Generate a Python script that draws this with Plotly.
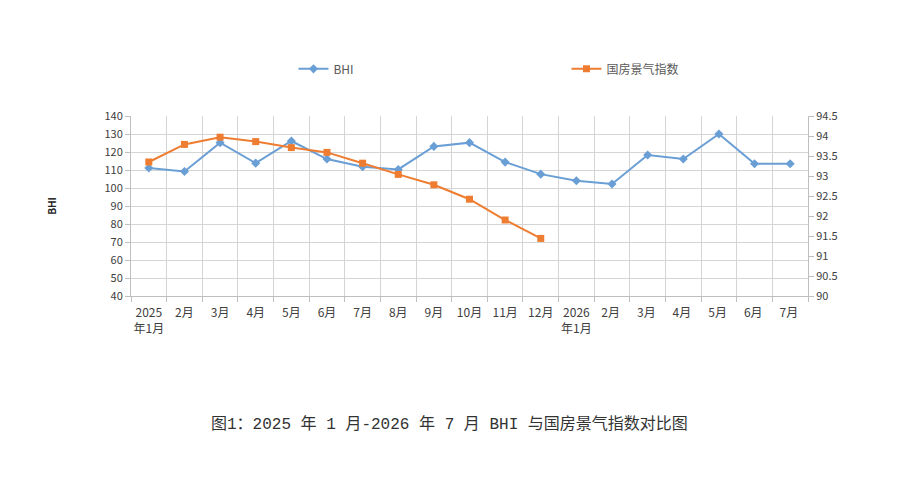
import plotly.graph_objects as go

months = ["2025<br>年1月", "2月", "3月", "4月", "5月", "6月", "7月", "8月", "9月", "10月",
          "11月", "12月", "2026<br>年1月", "2月 ", "3月 ", "4月 ", "5月 ", "6月 ", "7月 "]

bhi = [111.1, 109.2, 125.2, 113.8, 126.1, 116.1, 111.8, 110.3, 123.1, 125.2,
       114.4, 107.7, 104.0, 102.2, 118.3, 116.1, 130.0, 113.5, 113.5]

guofang_months = months[:12]
guofang = [93.35, 93.79, 93.97, 93.86, 93.71, 93.59, 93.32, 93.04, 92.78, 92.42, 91.90, 91.44]

left_ticks = list(range(40, 141, 10))
right_ticks = [90, 90.5, 91, 91.5, 92, 92.5, 93, 93.5, 94, 94.5]
right_labels = ["90", "90.5", "91", "91.5", "92", "92.5", "93", "93.5", "94", "94.5"]

BLUE = "#6a9fd6"
ORANGE = "#ee7d31"
FONT = "Noto Sans CJK SC"

fig = go.Figure()
fig.add_trace(go.Scatter(
    x=months, y=bhi, name="BHI", mode="lines+markers",
    line=dict(color=BLUE, width=2),
    marker=dict(symbol="diamond", size=7, color=BLUE),
))
fig.add_trace(go.Scatter(
    x=guofang_months, y=guofang, name="国房景气指数", mode="lines+markers",
    yaxis="y2",
    line=dict(color=ORANGE, width=2),
    marker=dict(symbol="square", size=7, color=ORANGE),
))

# the page has an 8px body margin, so the figure is a bit smaller than the window
fig.update_layout(
    width=900, height=465,
    margin=dict(l=123, r=100, t=108, b=177, autoexpand=False),
    paper_bgcolor="white", plot_bgcolor="white",
    font=dict(family=FONT, size=11, color="#404040"),
    legend=dict(
        orientation="h", x=0.24, y=1.262, xanchor="left", yanchor="middle",
        entrywidth=228, entrywidthmode="pixels",
        font=dict(size=12, color="#595959"),
    ),
    xaxis=dict(
        type="category", categoryorder="array", categoryarray=months,
        tickson="boundaries", ticks="outside", ticklen=5, tickcolor="#bfbfbf",
        tickangle=0, ticklabelstandoff=6,
        showgrid=True, gridcolor="#d4d4d4", gridwidth=1,
        showline=True, linecolor="#bfbfbf", mirror=False,
        tickfont=dict(size=12, color="#404040"),
        range=[-0.5, 18.5],
    ),
    yaxis=dict(
        range=[40, 140], tickvals=left_ticks,
        ticks="outside", ticklen=5, tickcolor="#bfbfbf",
        showgrid=True, gridcolor="#d4d4d4",
        showline=True, linecolor="#bfbfbf",
        tickfont=dict(size=11, color="#404040"),
        title=dict(text="<b>BHI</b>", font=dict(size=10, color="#222"), standoff=45),
    ),
    yaxis2=dict(
        overlaying="y", side="right", range=[90, 94.5],
        tickvals=right_ticks, ticktext=right_labels,
        ticks="outside", ticklen=5, tickcolor="#bfbfbf",
        showgrid=False, showline=True, linecolor="#bfbfbf",
        tickfont=dict(size=11, color="#404040"),
    ),
    annotations=[dict(
        text="图1：2025 年 1 月-2026 年 7 月 BHI 与国房景气指数对比图",
        xref="paper", yref="paper", x=0.47, y=-0.775,
        showarrow=False,
        font=dict(family="Liberation Mono, Noto Sans CJK SC", size=16, color="#333"),
    )],
)

fig.write_html("out.html")
